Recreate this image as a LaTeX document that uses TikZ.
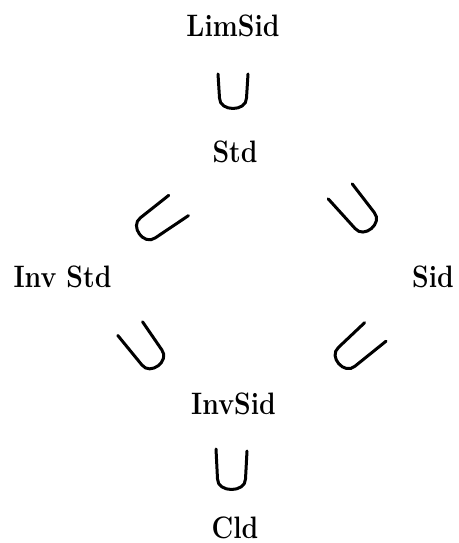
\documentclass[tikz,border=0pt]{standalone}
\newcommand\narrowtext[1]{\scalebox{0.86}[1]{#1}}
\begin{document}
\begin{tikzpicture}[x=1pt,y=1pt,
  cls/.style={font=\fontsize{31}{36}\selectfont\bfseries, inner sep=0pt, anchor=base},
  incl/.style={line width=3pt, line cap=round, line join=round},
  % #1 half width, #2 left leg length, #3 right leg length, #4 depth
  pics/incl/.style n args={4}{code={%
    \draw[incl] (-#1-1.5,#2) -- (-#1,-#4+11)
      .. controls (-#1,-#4-3) and (#1,-#4-3) .. (#1,-#4+11) -- (#1+1.5,#3);}}]
\useasboundingbox (0,0) rectangle (458,543);
% classes
\node[cls] (limsid) at (233,506) {\narrowtext{LimSid}};
\node[cls] (std)    at (235,380) {\narrowtext{Std}};
\node[cls] (invstd) at (62.5,255) {\narrowtext{Inv Std}};
\node[cls] (sid)    at (433,255) {\narrowtext{Sid}};
\node[cls] (invsid) at (233.5,128) {\narrowtext{InvSid}};
\node[cls] (cld)    at (235,4.5) {\narrowtext{Cld}};
% inclusion marks between the classes
\pic at (233,451) {incl={13.5}{18}{18}{17}};
\pic[rotate=-54] at (160,324) {incl={12.5}{21}{25}{26}};
\pic[rotate=40] at (355,334) {incl={12.5}{25}{21}{26}};
\pic[rotate=37] at (144,196) {incl={12.5}{25}{21}{24}};
\pic[rotate=-49] at (358,196) {incl={12.5}{21}{25}{26}};
\pic at (231.5,73) {incl={14}{21}{19}{20}};
\end{tikzpicture}
\end{document}
